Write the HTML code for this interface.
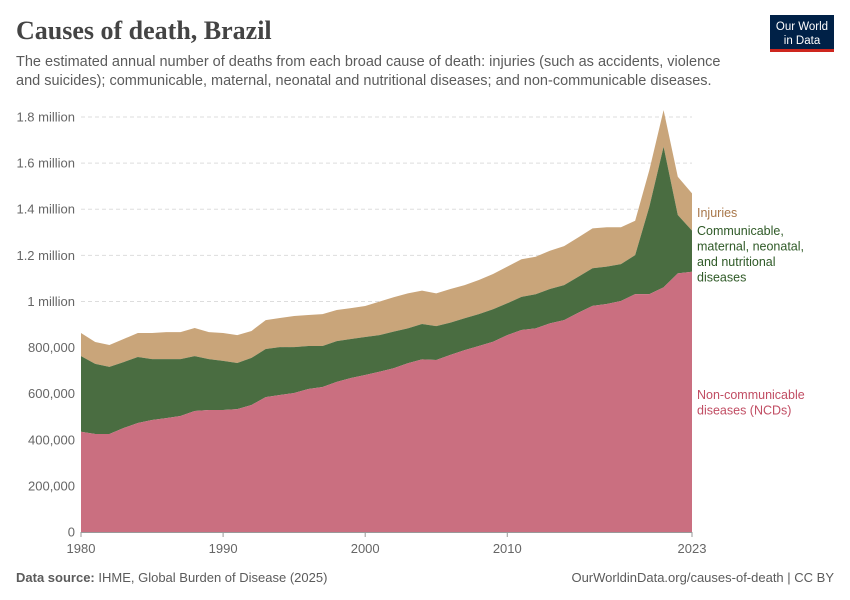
<!DOCTYPE html>
<html><head><meta charset="utf-8">
<style>
body{margin:0;background:#fff;font-family:"Liberation Sans",sans-serif;}
#wrap{position:relative;width:850px;height:600px;overflow:hidden;}
</style></head>
<body>
<div id="wrap">
<svg id="chart" width="850" height="600">
  <text x="16" y="39" font-family="Liberation Serif, serif" font-weight="bold" font-size="26" fill="#444">Causes of death, Brazil</text>
  <text x="16" y="66" font-size="14.5" fill="#5b5b5b">The estimated annual number of deaths from each broad cause of death: injuries (such as accidents, violence</text>
  <text x="16" y="85" font-size="14.5" fill="#5b5b5b">and suicides); communicable, maternal, neonatal and nutritional diseases; and non-communicable diseases.</text>
  <g>
    <rect x="770" y="15" width="64" height="36" fill="#002147"/>
    <rect x="770" y="49" width="64" height="3" fill="#ce261e"/>
    <text x="802" y="30" text-anchor="middle" font-size="11.5" fill="#fff">Our World</text>
    <text x="802" y="44" text-anchor="middle" font-size="11.5" fill="#fff">in Data</text>
  </g>
  <g id="grid"></g>
  <g id="areas"></g>
  <g id="xaxis"></g>
  <g id="labels"></g>
  <text x="16" y="582" font-size="13" fill="#5b5b5b"><tspan font-weight="bold">Data source:</tspan> IHME, Global Burden of Disease (2025)</text>
  <text x="834" y="582" text-anchor="end" font-size="13" fill="#5b5b5b">OurWorldinData.org/causes-of-death | CC BY</text>
</svg>
</div>
<script>
const years = [];
for (let y = 1980; y <= 2023; y++) years.push(y);
// deaths in thousands
const ncd = [435,425,425,451,473,486,494,503,525,529,529,533,551,585,594,603,620,629,651,668,681,695,710,732,749,746,768,789,807,825,854,876,883,905,919,951,981,989,1002,1032,1032,1061,1122,1129];
const communicable = [328,304,291,286,286,264,256,247,238,221,213,200,204,209,208,199,187,178,177,169,165,159,159,151,153,147,140,138,138,141,138,144,148,149,152,156,163,162,160,169,379,610,253,178];
const injuries = [100,95,95,100,104,113,117,117,122,117,121,121,117,125,126,135,134,138,135,134,134,145,149,152,145,142,146,144,148,153,159,163,163,166,169,171,173,171,160,149,159,159,166,162];
const yTicks = [0,200,400,600,800,1000,1200,1400,1600,1800];
const yTickLabels = ["0","200,000","400,000","600,000","800,000","1 million","1.2 million","1.4 million","1.6 million","1.8 million"];
const xTicks = [1980,1990,2000,2010,2023];

const X0=81, X1=692, Y0=532, Y1=117;
const xs = y => X0 + (y-1980)/(2023-1980)*(X1-X0);
const ys = v => Y0 - v/1800*(Y0-Y1);
const NS="http://www.w3.org/2000/svg";
function mk(tag, attrs, parent){const e=document.createElementNS(NS,tag);for(const k in attrs)e.setAttribute(k,attrs[k]);parent.appendChild(e);return e;}

const grid=document.getElementById('grid');
yTicks.forEach((t,i)=>{
  if(t>0){
    const l=mk('line',{x1:X0,x2:X1,y1:ys(t),y2:ys(t),stroke:'#ddd','stroke-dasharray':'4,3'},grid);
    
    
  }
  const tx=mk('text',{x:75,y:ys(t)+4.5,'text-anchor':'end','font-size':13,fill:'#666'},grid);
  tx.textContent=yTickLabels[i];
  
  
});

const areas=document.getElementById('areas');
const c1=ncd, c2=ncd.map((v,i)=>v+communicable[i]), c3=c2.map((v,i)=>v+injuries[i]);
function band(lo,hi,color,name){
  let d='M'+xs(years[0])+','+ys(hi[0]);
  for(let i=1;i<years.length;i++) d+='L'+xs(years[i])+','+ys(hi[i]);
  for(let i=years.length-1;i>=0;i--) d+='L'+xs(years[i])+','+ys(lo?lo[i]:0);
  const p=mk('path',{d:d+'Z',fill:color},areas);
  
  
}
band(c2,c3,'#c9a57a','area-injuries');
band(c1,c2,'#4a6d41','area-communicable');
band(null,c1,'#ca6f80','area-ncd');

const xa=document.getElementById('xaxis');
const ax=mk('line',{x1:X0,x2:X1,y1:Y0+0.5,y2:Y0+0.5,stroke:'#999'},xa);


xTicks.forEach(t=>{
  const tk=mk('line',{x1:xs(t),x2:xs(t),y1:Y0,y2:Y0+5,stroke:'#999'},xa);
  
  
  const tx=mk('text',{x:xs(t),y:Y0+21,'text-anchor':'middle','font-size':13,fill:'#666'},xa);
  tx.textContent=t;
  
  
});

const lab=document.getElementById('labels');
function label(lines,y,color,name){
  const t=mk('text',{x:697,y:y,'font-size':12.5,fill:color},lab);
  
  
  lines.forEach((s,i)=>{const ts=mk('tspan',{x:697,dy:i?15.5:0},t);ts.textContent=s;});
}
label(['Injuries'],217,'#a8774a','legend-injuries');
label(['Communicable,','maternal, neonatal,','and nutritional','diseases'],235,'#2f5a27','legend-communicable');
label(['Non-communicable','diseases (NCDs)'],399,'#c14d63','legend-ncd');
</script>
</body></html>
